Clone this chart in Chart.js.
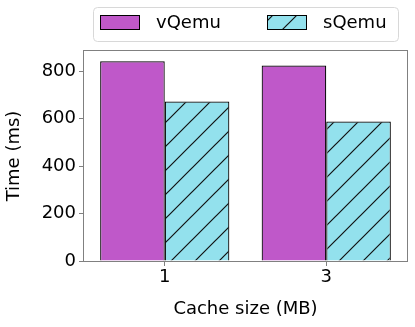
<!DOCTYPE html>
<html>
<head>
<meta charset="utf-8">
<script src="https://cdn.jsdelivr.net/npm/chart.js@4"></script>
<style>
  html, body { margin: 0; padding: 0; background: #fff; }
</style>
</head>
<body>
<canvas id="myChart" width="415" height="327"></canvas>
<script>
    /* Data */

var categories = ['1', '3'];
var seriesNames = ['vQemu', 'sQemu'];
var vqemuTimes = [842, 824];
var sqemuTimes = [672, 588];
var yTicks = [0, 200, 400, 600, 800];

var purple = '#bf58c9';
var cyan = '#93e1ed';

    /* Diagonal hatch like matplotlib '/' */

function hatch(bg) {
    var s = 24;
    var c = document.createElement('canvas');
    c.width = s;
    c.height = s;
    var g = c.getContext('2d');
    g.fillStyle = bg;
    g.fillRect(0, 0, s, s);
    g.strokeStyle = '#111';
    g.lineWidth = 1.2;
    g.beginPath();
    g.moveTo(-2, s + 2); g.lineTo(s + 2, -2);
    g.moveTo(-2, 2); g.lineTo(2, -2);
    g.moveTo(s - 2, s + 2); g.lineTo(s + 2, s - 2);
    g.stroke();
    return g.createPattern(c, 'repeat');
}

    /* Frame round the plot (matplotlib spines) */

var framePlugin = {
    id: 'frame',
    afterDatasetsDraw: function(chart) {
        var a = chart.chartArea;
        var ctx = chart.ctx;
        ctx.save();
        ctx.strokeStyle = '#808080';
        ctx.lineWidth = 1;
        ctx.strokeRect(a.left - 0.5, a.top - 0.5, a.right - a.left + 1, a.bottom - a.top + 1);
        ctx.restore();
    }
};

    /* Legend in a rounded box above the plot */

var legendPlugin = {
    id: 'boxLegend',
    afterDraw: function(chart) {
        var a = chart.chartArea;
        var ctx = chart.ctx;
        var x0 = a.left + 9, x1 = a.right - 9, y0 = 7, y1 = 41;
        ctx.save();
        ctx.beginPath();
        ctx.roundRect(x0 + 0.5, y0 + 0.5, x1 - x0, y1 - y0, 4);
        ctx.strokeStyle = '#d8d8d8';
        ctx.lineWidth = 1;
        ctx.stroke();

        var xs = [x0 + 7, x0 + 174];
        ctx.font = '18px "DejaVu Sans"';
        ctx.textBaseline = 'middle';
        ctx.textAlign = 'left';
        chart.data.datasets.forEach(function(ds, i) {
            ctx.fillStyle = ds.backgroundColor;
            ctx.fillRect(xs[i], 15, 40, 15);
            ctx.strokeStyle = '#000';
            ctx.lineWidth = 1;
            ctx.strokeRect(xs[i] + 0.5, 15.5, 39, 14);
            ctx.fillStyle = '#000';
            ctx.fillText(ds.label, xs[i] + 56, 23);
        });
        ctx.restore();
    }
};

Chart.defaults.font.family = '"DejaVu Sans"';
Chart.defaults.font.size = 18;
Chart.defaults.color = '#000';

const ctx = document.getElementById('myChart').getContext('2d');
const myChart = new Chart(ctx, {
    type: 'bar',
    data: {
        labels: categories,
        datasets: [{
            label: seriesNames[0],
            data: vqemuTimes,
            backgroundColor: purple,
            borderColor: '#000',
            borderWidth: 1.2,
            categoryPercentage: 0.8,
            barPercentage: 1.0
        }, {
            label: seriesNames[1],
            data: sqemuTimes,
            backgroundColor: hatch(cyan),
            borderColor: '#000',
            borderWidth: 1.2,
            categoryPercentage: 0.8,
            barPercentage: 1.0
        }]
    },
    options: {
        responsive: false,
        animation: false,
        devicePixelRatio: 1,
        layout: { padding: { top: 51, right: 8, left: 0, bottom: 0 } },
        plugins: {
            legend: { display: false },
            tooltip: { enabled: false }
        },
        scales: {
            x: {
                offset: true,
                grid: { display: true, drawOnChartArea: false, drawTicks: true, tickLength: 5, color: '#808080', offset: false },
                border: { display: false },
                ticks: { color: '#000', padding: 1 },
                title: { display: true, text: 'Cache size (MB)', color: '#000', padding: { top: 4, bottom: 7 } },
                afterFit: function(s) { s.height = 66; }
            },
            y: {
                min: 0,
                max: 885,
                afterBuildTicks: function(axis) {
                    axis.ticks = yTicks.map(function(v) { return { value: v }; });
                },
                grid: { display: true, drawOnChartArea: false, drawTicks: true, tickLength: 5, color: '#808080' },
                border: { display: false },
                ticks: { color: '#000', padding: 3 },
                title: { display: true, text: 'Time (ms)', color: '#000', padding: { top: 4, bottom: 0 } },
                afterFit: function(s) { s.width = 84; }
            }
        }
    },
    plugins: [framePlugin, legendPlugin]
});
</script>
</body>
</html>
